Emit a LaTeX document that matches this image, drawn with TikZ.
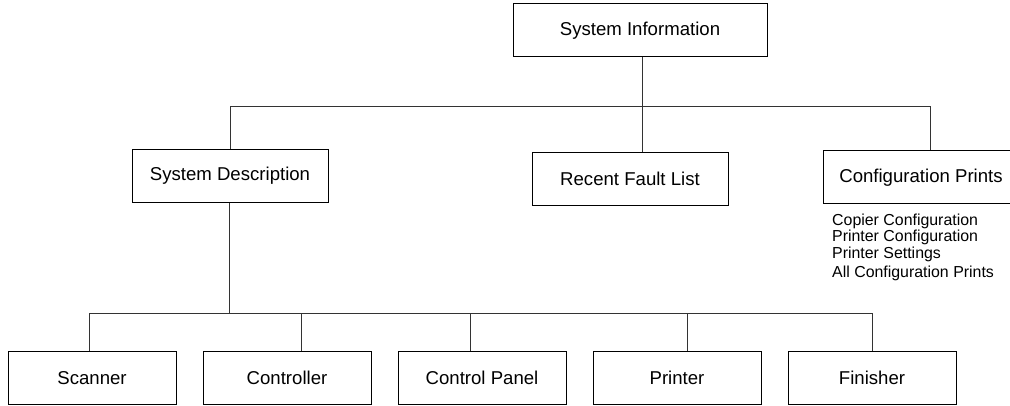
\documentclass[tikz,border=0pt]{standalone}
\usepackage{fontspec}
\setmainfont{Liberation Sans}
\usetikzlibrary{positioning}

\begin{document}
\begin{tikzpicture}[x=1pt, y=-1pt,
    box/.style={draw, rectangle, line width=1pt, inner sep=0pt,
                minimum height=53pt, font=\fontsize{18.6}{22}\selectfont},
    unit/.style={box, minimum width=168pt},
    link/.style={line width=1pt, draw=black!80},
    sublist/.style={align=left, inner sep=0pt,
                    font=\fontsize{15.9}{16.5}\selectfont},
    node distance=26pt
]
\useasboundingbox (0,0) rectangle (1010,406);
\clip (0,0) rectangle (1010,406);

% Top level
\node[box, minimum width=254pt] (info) at (640,30.5) {System Information};

% Second level
\node[box, minimum width=196pt] (desc) at (230,176) {System Description};
\node[box, minimum width=196pt] (fault) at (630,179) {Recent Fault List};
\node[box, minimum width=196pt] (config) at (921,177.5) {Configuration Prints};

% Prints under configuration
\node[sublist, anchor=north west] (cfglist) at (832,213.5) {Copier Configuration\\
  Printer Configuration\\
  Printer Settings\\[3pt]
  All Configuration Prints};

% Units
\node[unit] (scan) at (92,378) {Scanner};
\node[unit, right=of scan] (ctrl) {Controller};
\node[unit, right=of ctrl] (panel) {Control Panel};
\node[unit, right=of panel] (prn) {Printer};
\node[unit, right=of prn] (fin) {Finisher};

% Upper tree
\coordinate (bus1) at (642,107);
\draw[link] ([xshift=2pt]info.south) -- ([xshift=2pt]info.south |- fault.north);
\draw[link] (desc.north) |- ([xshift=9pt]config.north |- bus1) -- ([xshift=9pt]config.north);

% Lower tree
\coordinate (bus2) at (229,314);
\draw[link] ([xshift=-1pt]desc.south) -- (bus2);
\draw[link] ([xshift=-3pt]scan.north) |- (fin.north |- bus2) -- (fin.north);
\foreach \n/\dx in {ctrl/14, panel/-12, prn/10}
  \draw[link] ([xshift=\dx pt]\n.north) -- ([xshift=\dx pt]\n.north |- bus2);

\end{tikzpicture}
\end{document}
